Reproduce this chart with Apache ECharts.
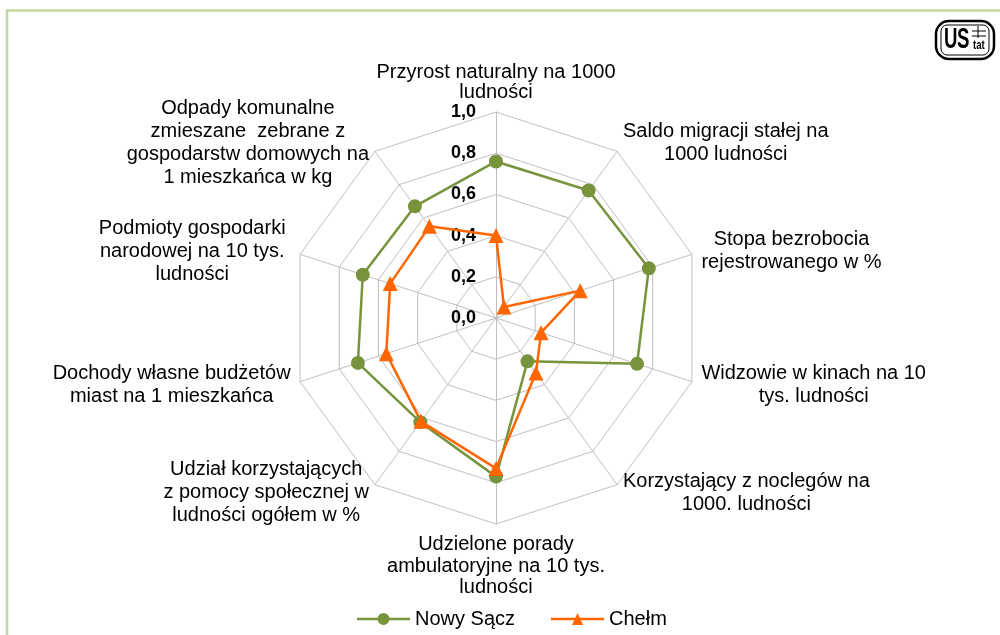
<!DOCTYPE html>
<html>
<head>
<meta charset="utf-8">
<script src="https://cdn.jsdelivr.net/npm/echarts@6/dist/echarts.min.js"></script>
<style>
  html, body { margin: 0; padding: 0; background: #ffffff; }
  #chart { width: 1000px; height: 635px; }
</style>
</head>
<body>
<div id="chart"></div>
<script>
// Indicator names, listed clockwise from the top axis
const indicatorNames = [
  'Przyrost naturalny na 1000\nludności',
  'Saldo migracji stałej na\n1000 ludności',
  'Stopa bezrobocia\nrejestrowanego w %',
  'Widzowie w kinach na 10\ntys. ludności',
  'Korzystający z noclegów na\n1000. ludności',
  'Udzielone porady\nambulatoryjne na 10 tys.\nludności',
  'Udział korzystających\nz pomocy społecznej w\nludności ogółem w %',
  'Dochody własne budżetów\nmiast na 1 mieszkańca',
  'Podmioty gospodarki\nnarodowej na 10 tys.\nludności',
  'Odpady komunalne\nzmieszane  zebrane z\ngospodarstw domowych na\n1 mieszkańca w kg'
];

// Normalised indicator values (0 – 1), same order as the names
const nowySacz = [0.76, 0.765, 0.78, 0.72, 0.26, 0.77, 0.625, 0.705, 0.68, 0.67];
const chelm    = [0.40, 0.066, 0.43, 0.23, 0.33, 0.73, 0.62, 0.56, 0.54, 0.55];

const seriesNames = ['Nowy Sącz', 'Chełm'];
const scaleMin = 0, scaleMax = 1, scaleStep = 0.2;

const GREEN = '#77933c';
const ORANGE = '#ff6600';
const FONT = '"Liberation Sans", Arial, sans-serif';

// ECharts lays radar axes out counter-clockwise, so feed them in reverse
// (keeping the first one on top) to get a clockwise reading order.
const order = indicatorNames.map((_, i) => (indicatorNames.length - i) % indicatorNames.length);
const reorder = arr => order.map(i => arr[i]);

// text style key used for each axis name block
const nameStyleKeys = ['top', 'c', 'c', 'c', 'c', 'bottom', 'c', 'c', 'shift', 'c'];

const chart = echarts.init(document.getElementById('chart'), null, { renderer: 'canvas' });

const indicators = reorder(indicatorNames).map((name, i) => {
  const ind = { name: name, min: scaleMin, max: scaleMax };
  if (i === 0) {
    ind.axisLabel = {
      show: true,
      fontFamily: FONT,
      fontSize: 18,
      fontWeight: 'bold',
      color: '#000',
      margin: 20,
      formatter: v => v.toFixed(1).replace('.', ',')
    };
  }
  return ind;
});

// Legend icons: a line with the series marker in the middle
const circleIcon = 'path://M0,5.25 L53,5.25 L53,7.75 L0,7.75 Z M20.5,6.5 A6,6 0 1,1 32.5,6.5 A6,6 0 1,1 20.5,6.5 Z';
const triangleIcon = 'path://M0,5.25 L53,5.25 L53,7.75 L0,7.75 Z M21,12.5 L26.5,0.5 L32,12.5 Z';

const nameText = { fontFamily: FONT, fontSize: 20, color: '#000', align: 'center' };

chart.setOption({
  animation: false,
  textStyle: { fontFamily: FONT },
  radar: {
    center: [496, 318],
    radius: 206,
    startAngle: 90,
    shape: 'polygon',
    splitNumber: Math.round((scaleMax - scaleMin) / scaleStep),
    indicator: indicators,
    axisName: {
      color: '#000',
      fontFamily: FONT,
      fontSize: 20,
      lineHeight: 23,
      // centre every line inside its own label block
      formatter: name => {
        const key = nameStyleKeys[indicatorNames.indexOf(name)] || 'c';
        return name.split('\n').map(l => '{' + key + '|' + l + '}').join('\n');
      },
      rich: {
        c: Object.assign({ lineHeight: 23 }, nameText),
        top: Object.assign({ lineHeight: 20 }, nameText),
        bottom: Object.assign({ lineHeight: 21.5 }, nameText),
        shift: Object.assign({ lineHeight: 23, padding: [0, 5, 0, 0] }, nameText)
      }
    },
    axisNameGap: 10,
    axisLine: { lineStyle: { color: '#bfbfbf', width: 1 } },
    splitLine: { lineStyle: { color: '#bfbfbf', width: 1 } },
    splitArea: { show: false },
    axisTick: { show: false },
    axisLabel: { show: false }
  },
  legend: {
    top: 609,
    left: 357,
    padding: 0,
    itemWidth: 53,
    itemHeight: 12,
    itemGap: 36,
    textStyle: { fontFamily: FONT, fontSize: 20, color: '#000' },
    data: [
      { name: seriesNames[0], icon: circleIcon, itemStyle: { color: GREEN } },
      { name: seriesNames[1], icon: triangleIcon, itemStyle: { color: ORANGE } }
    ]
  },
  graphic: [
    // outer frame
    { type: 'rect', shape: { x: 7, y: 10.5, width: 1100, height: 800 }, style: { fill: 'none', stroke: '#c3d69b', lineWidth: 2.5 }, silent: true },
    // logo
    {
      type: 'group', x: 936, y: 21, silent: true,
      children: [
        { type: 'rect', shape: { x: 0, y: 0, width: 58, height: 38, r: 13 }, style: { fill: '#fff', stroke: '#000', lineWidth: 2.5 } },
        { type: 'rect', shape: { x: 5, y: 4, width: 48, height: 30, r: 6 }, style: { fill: 'none', stroke: '#000', lineWidth: 1 } },
        { type: 'line', shape: { x1: 36, y1: 10, x2: 50, y2: 10 }, style: { stroke: '#000', lineWidth: 1 } },
        { type: 'line', shape: { x1: 36, y1: 15, x2: 50, y2: 15 }, style: { stroke: '#000', lineWidth: 1 } },
        { type: 'line', shape: { x1: 42, y1: 5, x2: 42, y2: 17 }, style: { stroke: '#000', lineWidth: 1 } },
        { type: 'text', x: 8, y: 4, scaleX: 0.62, style: { text: 'U', font: 'bold 30px "Liberation Sans", sans-serif', fill: '#000' } },
        { type: 'text', x: 21, y: 4, scaleX: 0.62, style: { text: 'S', font: 'bold 30px "Liberation Sans", sans-serif', fill: '#000' } },
        { type: 'text', x: 37, y: 19, scaleX: 0.8, style: { text: 'tat', font: 'bold 12px "Liberation Sans", sans-serif', fill: '#000' } }
      ]
    }
  ],
  series: [
    {
      name: seriesNames[0],
      type: 'radar',
      symbol: 'circle',
      symbolSize: 14,
      lineStyle: { color: GREEN, width: 2.5 },
      itemStyle: { color: GREEN },
      data: [{ name: seriesNames[0], value: reorder(nowySacz) }]
    },
    {
      name: seriesNames[1],
      type: 'radar',
      symbol: 'triangle',
      symbolSize: 15,
      lineStyle: { color: ORANGE, width: 2.5 },
      itemStyle: { color: ORANGE },
      data: [{ name: seriesNames[1], value: reorder(chelm) }]
    }
  ]
});
</script>
</body>
</html>
